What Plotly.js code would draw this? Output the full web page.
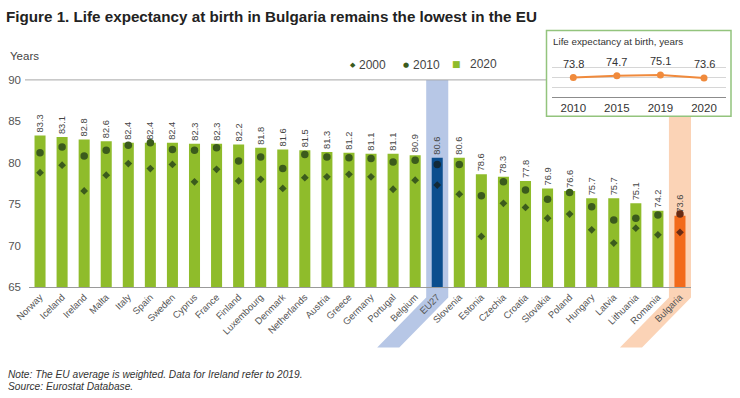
<!DOCTYPE html>
<html><head><meta charset="utf-8">
<script src="https://cdn.plot.ly/plotly-3.0.1.min.js"></script>
<style>html,body{margin:0;padding:0;background:#fff}</style>
</head><body><div id="chart" style="width:740px;height:398px"></div>
<script>
const categories = ['Norway','Iceland','Ireland','Malta','Italy','Spain','Sweden','Cyprus','France','Finland','Luxembourg','Denmark','Netherlands','Austria','Greece','Germany','Portugal','Belgium','EU27','Slovenia','Estonia','Czechia','Croatia','Slovakia','Poland','Hungary','Latvia','Lithuania','Romania','Bulgaria'];
const v2020 = [83.3,83.1,82.8,82.6,82.4,82.4,82.4,82.3,82.3,82.2,81.8,81.6,81.5,81.3,81.2,81.1,81.1,80.9,80.6,80.6,78.6,78.3,77.8,76.9,76.6,75.7,75.7,75.1,74.2,73.6];
const v2010 = [81.2,81.9,80.8,81.5,82.1,82.4,81.6,81.5,81.8,80.2,80.7,79.3,81.0,80.7,80.6,80.5,80.1,80.3,79.8,79.8,76.0,77.7,76.7,75.6,76.4,74.7,73.1,73.3,73.7,73.8];
const v2000 = [78.8,79.7,76.6,78.5,79.9,79.3,79.8,77.7,79.2,77.8,78.0,76.9,78.2,78.3,78.6,78.3,76.8,77.9,77.3,76.2,71.1,75.1,74.6,73.3,73.8,71.9,70.3,72.1,71.3,71.6];
const yTicks = [65,70,75,80,85,90];
const insetYears = ['2010','2015','2019','2020'];
const insetBulgaria = [73.8,74.7,75.1,73.6];
const legendNames = ['2000','2010','2020'];

const GREEN='#8fbc2b', DKGREEN='#3b5b1c', NAVY='#0b4e8e', ORANGE='#f26a1b';
const BAND_BLUE='#b7c7e6', BAND_PEACH='#fbd3b6', BOXGREEN='#93c47d', LINEOR='#f08a3c';
const TXT='#444', NARROW='Liberation Sans Narrow, Arial Narrow, sans-serif', SANS='Liberation Sans, Arial, sans-serif';

const W=740,H=398,ml=29,mr=5,mt=30,mb=110.5,pw=W-ml-mr,ph=H-mt-mb;
const px2x=p=>(p-ml)/pw, py2y=p=>(H-mb-p)/ph;
const D=px2x(691), yTop=py2y(80);
const iEU=categories.indexOf('EU27'), iBG=categories.indexOf('Bulgaria');
const catX=v=>D*(v+0.5)/categories.length;
const slant=2.22;

const barColors=categories.map(c=>c==='EU27'?NAVY:(c==='Bulgaria'?ORANGE:GREEN));
const mkColors=categories.map(c=>c==='EU27'?'#122a38':(c==='Bulgaria'?'#6a2a12':DKGREEN));

const traces=[
 {type:'bar',x:categories,y:v2020,name:legendNames[2],marker:{color:barColors},
  text:v2020.map(v=>v.toFixed(1)),textposition:'outside',textangle:-90,constraintext:'none',
  textfont:{family:SANS,size:9.3,color:TXT},cliponaxis:false,hoverinfo:'skip'},
 {type:'scatter',mode:'markers',x:categories,y:v2010,name:legendNames[1],
  marker:{symbol:'circle',size:7.5,color:mkColors},cliponaxis:false},
 {type:'scatter',mode:'markers',x:categories,y:v2000,name:legendNames[0],
  marker:{symbol:'diamond',size:6,color:mkColors},cliponaxis:false},
 {type:'scatter',mode:'lines+markers',x:insetYears,y:insetBulgaria,xaxis:'x2',yaxis:'y2',
  line:{color:LINEOR,width:2},marker:{color:LINEOR,size:7},cliponaxis:false}
];

function bandPath(i, topPx){
  const xl=catX(i-0.5), xr=catX(i+0.5), y1=py2y(topPx), ym=py2y(298), yb=py2y(348);
  const dx=D*slant/categories.length;
  return `M ${xl},${y1} L ${xr},${y1} L ${xr},${ym} L ${xr-dx},${yb} L ${xl-dx},${yb} L ${xl},${ym} Z`;
}

const shapes=[
 {type:'path',xref:'paper',yref:'paper',path:bandPath(iEU,80),fillcolor:BAND_BLUE,line:{width:0},layer:'below'},
 {type:'path',xref:'paper',yref:'paper',path:bandPath(iBG,117),fillcolor:BAND_PEACH,line:{width:0},layer:'below'},
 {type:'line',xref:'paper',yref:'paper',x0:px2x(25),x1:px2x(731),y0:yTop,y1:yTop,line:{color:'#a6a6a6',width:1},layer:'below'},
 {type:'rect',xref:'paper',yref:'paper',x0:px2x(546.5),x1:px2x(731),y0:py2y(116.5),y1:py2y(30.5),fillcolor:'#fff',line:{color:BOXGREEN,width:1.5},layer:'below'}
];

const legY=py2y(65);
const annotations=[
 {text:'Years',xref:'paper',yref:'paper',x:px2x(8),y:py2y(56),xanchor:'left',yanchor:'middle',showarrow:false,font:{family:NARROW,size:11.5,color:TXT}},
 {text:'Life expectancy at birth, years',xref:'paper',yref:'paper',x:px2x(551),y:py2y(42),xanchor:'left',yanchor:'middle',showarrow:false,font:{family:NARROW,size:9.8,color:'#333'}},
 {text:'<i>Note: The EU average is weighted. Data for Ireland refer to 2019.</i>',xref:'paper',yref:'paper',x:px2x(6),y:py2y(375),xanchor:'left',yanchor:'middle',showarrow:false,font:{family:NARROW,size:10.2,color:'#333'}},
 {text:'<i>Source: Eurostat Database.</i>',xref:'paper',yref:'paper',x:px2x(6),y:py2y(387),xanchor:'left',yanchor:'middle',showarrow:false,font:{family:NARROW,size:10.2,color:'#333'}},
 {text:'◆',xref:'paper',yref:'paper',x:px2x(352.7),y:legY,xanchor:'center',yanchor:'middle',showarrow:false,font:{family:'DejaVu Sans',size:7,color:DKGREEN}},
 {text:legendNames[0],xref:'paper',yref:'paper',x:px2x(357),y:legY,xanchor:'left',yanchor:'middle',showarrow:false,font:{family:NARROW,size:12,color:TXT}},
 {text:'●',xref:'paper',yref:'paper',x:px2x(406),y:legY,xanchor:'center',yanchor:'middle',showarrow:false,font:{family:'DejaVu Sans',size:7,color:DKGREEN}},
 {text:legendNames[1],xref:'paper',yref:'paper',x:px2x(411),y:legY,xanchor:'left',yanchor:'middle',showarrow:false,font:{family:NARROW,size:12,color:TXT}},
 {text:'■',xref:'paper',yref:'paper',x:px2x(456),y:py2y(64),xanchor:'center',yanchor:'middle',showarrow:false,font:{family:'DejaVu Sans',size:9,color:GREEN}},
 {text:legendNames[2],xref:'paper',yref:'paper',x:px2x(468),y:py2y(64),xanchor:'left',yanchor:'middle',showarrow:false,font:{family:NARROW,size:12,color:TXT}}
].concat(insetYears.map((yr,i)=>({text:insetBulgaria[i].toFixed(1),xref:'x2',yref:'y2',x:i,y:insetBulgaria[i],
  yshift:14,xanchor:'center',yanchor:'middle',showarrow:false,font:{family:NARROW,size:11,color:'#333'}})));

const layout={
 width:W,height:H,margin:{l:ml,r:mr,t:mt,b:mb,pad:0},
 paper_bgcolor:'#fff',plot_bgcolor:'rgba(0,0,0,0)',showlegend:false,bargap:0.5,
 title:{text:'<b>Figure 1. Life expectancy at birth in Bulgaria remains the lowest in the EU</b>',xref:'container',yref:'container',x:6/W,xanchor:'left',y:1-17/H,yanchor:'middle',font:{family:NARROW,size:15.2,color:'#222'}},
 xaxis:{domain:[0,D],type:'category',range:[-0.5,categories.length-0.5],tickangle:-45,showgrid:false,zeroline:false,
  showline:true,linecolor:'#9a9a9a',linewidth:1,ticks:'',tickfont:{family:SANS,size:9.5,color:'#555'}},
 yaxis:{domain:[0,yTop],range:[65,90],tickvals:yTicks,showgrid:false,zeroline:false,showline:false,ticks:'',
  ticklabelstandoff:7,tickfont:{family:NARROW,size:11.5,color:'#555'}},
 xaxis2:{domain:[px2x(551.5),px2x(725.8)],anchor:'y2',type:'category',range:[-0.5,insetYears.length-0.5],showgrid:false,zeroline:false,
  showline:true,linecolor:'#8c8c8c',ticks:'',tickfont:{family:NARROW,size:11.5,color:'#333'}},
 yaxis2:{domain:[py2y(97.3),py2y(65.3)],anchor:'x2',range:[64,80],tickvals:[64,69,74,79],showticklabels:false,showgrid:true,
  gridcolor:'#d6d6d6',zeroline:false,showline:false,ticks:''},
 shapes:shapes,annotations:annotations
};
Plotly.newPlot('chart',traces,layout,{displayModeBar:false,staticPlot:true});
</script></body></html>
